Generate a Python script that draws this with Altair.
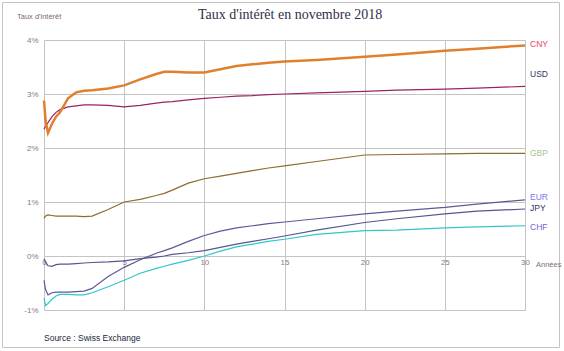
import altair as alt
import pandas as pd

# ---- data ----
maturities = [0, 0.1, 0.25, 0.5, 0.75, 1, 1.5, 2, 2.5, 3, 4, 5, 6, 7, 7.5, 8, 9, 10,
              11, 12, 13, 14, 15, 17, 20, 22, 25, 27, 30]

cny = [2.88, 2.50, 2.28, 2.45, 2.58, 2.66, 2.92, 3.03, 3.06, 3.07, 3.10, 3.16, 3.27, 3.37,
       3.41, 3.41, 3.40, 3.40, 3.46, 3.52, 3.55, 3.58, 3.60, 3.63, 3.69, 3.73, 3.80, 3.84, 3.90]
usd = [2.35, 2.40, 2.47, 2.58, 2.66, 2.71, 2.76, 2.78, 2.80, 2.80, 2.79, 2.76, 2.79, 2.83,
       2.85, 2.86, 2.89, 2.92, 2.94, 2.96, 2.97, 2.99, 3.00, 3.02, 3.05, 3.07, 3.09, 3.11, 3.14]
gbp = [0.70, 0.74, 0.76, 0.75, 0.74, 0.74, 0.74, 0.74, 0.73, 0.74, 0.86, 1.00, 1.05, 1.12,
       1.16, 1.22, 1.35, 1.43, 1.48, 1.53, 1.58, 1.63, 1.67, 1.75, 1.87, 1.88, 1.89, 1.90, 1.90]
eur = [-0.45, -0.62, -0.72, -0.68, -0.67, -0.67, -0.67, -0.66, -0.65, -0.60, -0.38, -0.21,
       -0.07, 0.05, 0.10, 0.15, 0.27, 0.38, 0.46, 0.52, 0.56, 0.60, 0.63, 0.69, 0.78, 0.83,
       0.90, 0.96, 1.04]
jpy = [-0.05, -0.12, -0.18, -0.19, -0.16, -0.15, -0.15, -0.14, -0.13, -0.12, -0.11, -0.09,
       -0.05, -0.02, 0.00, 0.03, 0.06, 0.10, 0.16, 0.22, 0.27, 0.32, 0.37, 0.48, 0.62, 0.69,
       0.78, 0.83, 0.87]
chf = [-0.78, -0.92, -0.88, -0.80, -0.74, -0.71, -0.71, -0.72, -0.72, -0.68, -0.57, -0.45,
       -0.32, -0.23, -0.19, -0.15, -0.08, 0.00, 0.09, 0.17, 0.22, 0.27, 0.31, 0.40, 0.47,
       0.48, 0.52, 0.54, 0.56]

series_names = ["CNY", "USD", "GBP", "EUR", "JPY", "CHF"]
series_values = [cny, usd, gbp, eur, jpy, chf]
line_colors = ["#E0802E", "#9A2462", "#8E6B30", "#5A5A9A", "#56568F", "#2EC8C8"]
label_colors = ["#F0406A", "#2C3A5A", "#A4C890", "#7878F0", "#303068", "#6A6AD8"]

x_ticks = [0, 5, 10, 15, 20, 25, 30]
y_ticks = [-1, 0, 1, 2, 3, 4]

title_text = "Taux d'intérêt en novembre 2018"
ytitle_text = "Taux d'intérêt"
xtitle_text = "Années"
source_text = "Source : Swiss Exchange"

rows = []
for name, vals in zip(series_names, series_values):
    for m, v in zip(maturities, vals):
        rows.append({"Série": name, "Maturité": m, "Taux": v})
df = pd.DataFrame(rows)

W, H = 481, 270

x_enc = alt.X("Maturité:Q",
              scale=alt.Scale(domain=[0, 30], nice=False, zero=False),
              axis=alt.Axis(values=x_ticks, grid=True, gridColor="#c4c4c4", gridWidth=1,
                            domain=False, ticks=False, labelFontSize=8,
                            labelFont="Liberation Sans", labelColor="#8a7a86",
                            labelPadding=2, labelFlush=False, offset=-54, title=None))
y_enc = alt.Y("Taux:Q",
              scale=alt.Scale(domain=[-1, 4], nice=False, zero=False),
              axis=alt.Axis(values=y_ticks, grid=True, gridColor="#c4c4c4", gridWidth=1,
                            domain=False, ticks=False, labelFontSize=8,
                            labelFont="Liberation Sans", labelColor="#8a7a86",
                            labelPadding=6, labelExpr="datum.value + '%'", title=None))

color_enc = alt.Color("Série:N", scale=alt.Scale(domain=series_names, range=line_colors),
                      legend=None)

base = alt.Chart(df)
thin = base.transform_filter(alt.datum["Série"] != "CNY").mark_line(
    strokeWidth=1.2).encode(x=x_enc, y=y_enc, color=color_enc, detail="Série:N")
thick = base.transform_filter(alt.datum["Série"] == "CNY").mark_line(
    strokeWidth=2.5).encode(x=x_enc, y=y_enc, color=color_enc)

one = pd.DataFrame({"t": [""]})

def text_layer(txt, x, y, size, color, font="Liberation Sans", align="left"):
    return alt.Chart(pd.DataFrame({"t": [txt]})).mark_text(
        align=align, baseline="middle", fontSize=size, font=font, color=color
    ).encode(text="t:N", x=alt.value(x), y=alt.value(y))

label_y = [4, 34, 113, 157, 168, 187]
labels = [text_layer(n, 486, yy, 8.5, c) for n, yy, c in zip(series_names, label_y, label_colors)]

title = text_layer(title_text, 246, -25, 14, "#303048", font="Liberation Serif", align="center")
ytitle = text_layer(ytitle_text, -27, -23, 7.5, "#806878")
xtitle = text_layer(xtitle_text, 492, 225, 7.5, "#807080")
source = text_layer(source_text, 0, 298, 8.5, "#202838")

border = alt.Chart(one).mark_rect(fill=None, stroke="#c4c4c4", strokeWidth=1).encode(
    x=alt.value(-41.5), x2=alt.value(515.5), y=alt.value(-37.5), y2=alt.value(307.5))

chart = alt.layer(border, thin, thick, title, ytitle, xtitle, source, *labels).properties(
    width=W, height=H,
    autosize=alt.AutoSizeParams(type="none"),
    padding={"left": 44, "top": 40, "right": 39, "bottom": 41},
    background="white",
).configure_view(strokeWidth=0)

chart.save("out.html", embed_options={"renderer": "svg", "actions": False})
